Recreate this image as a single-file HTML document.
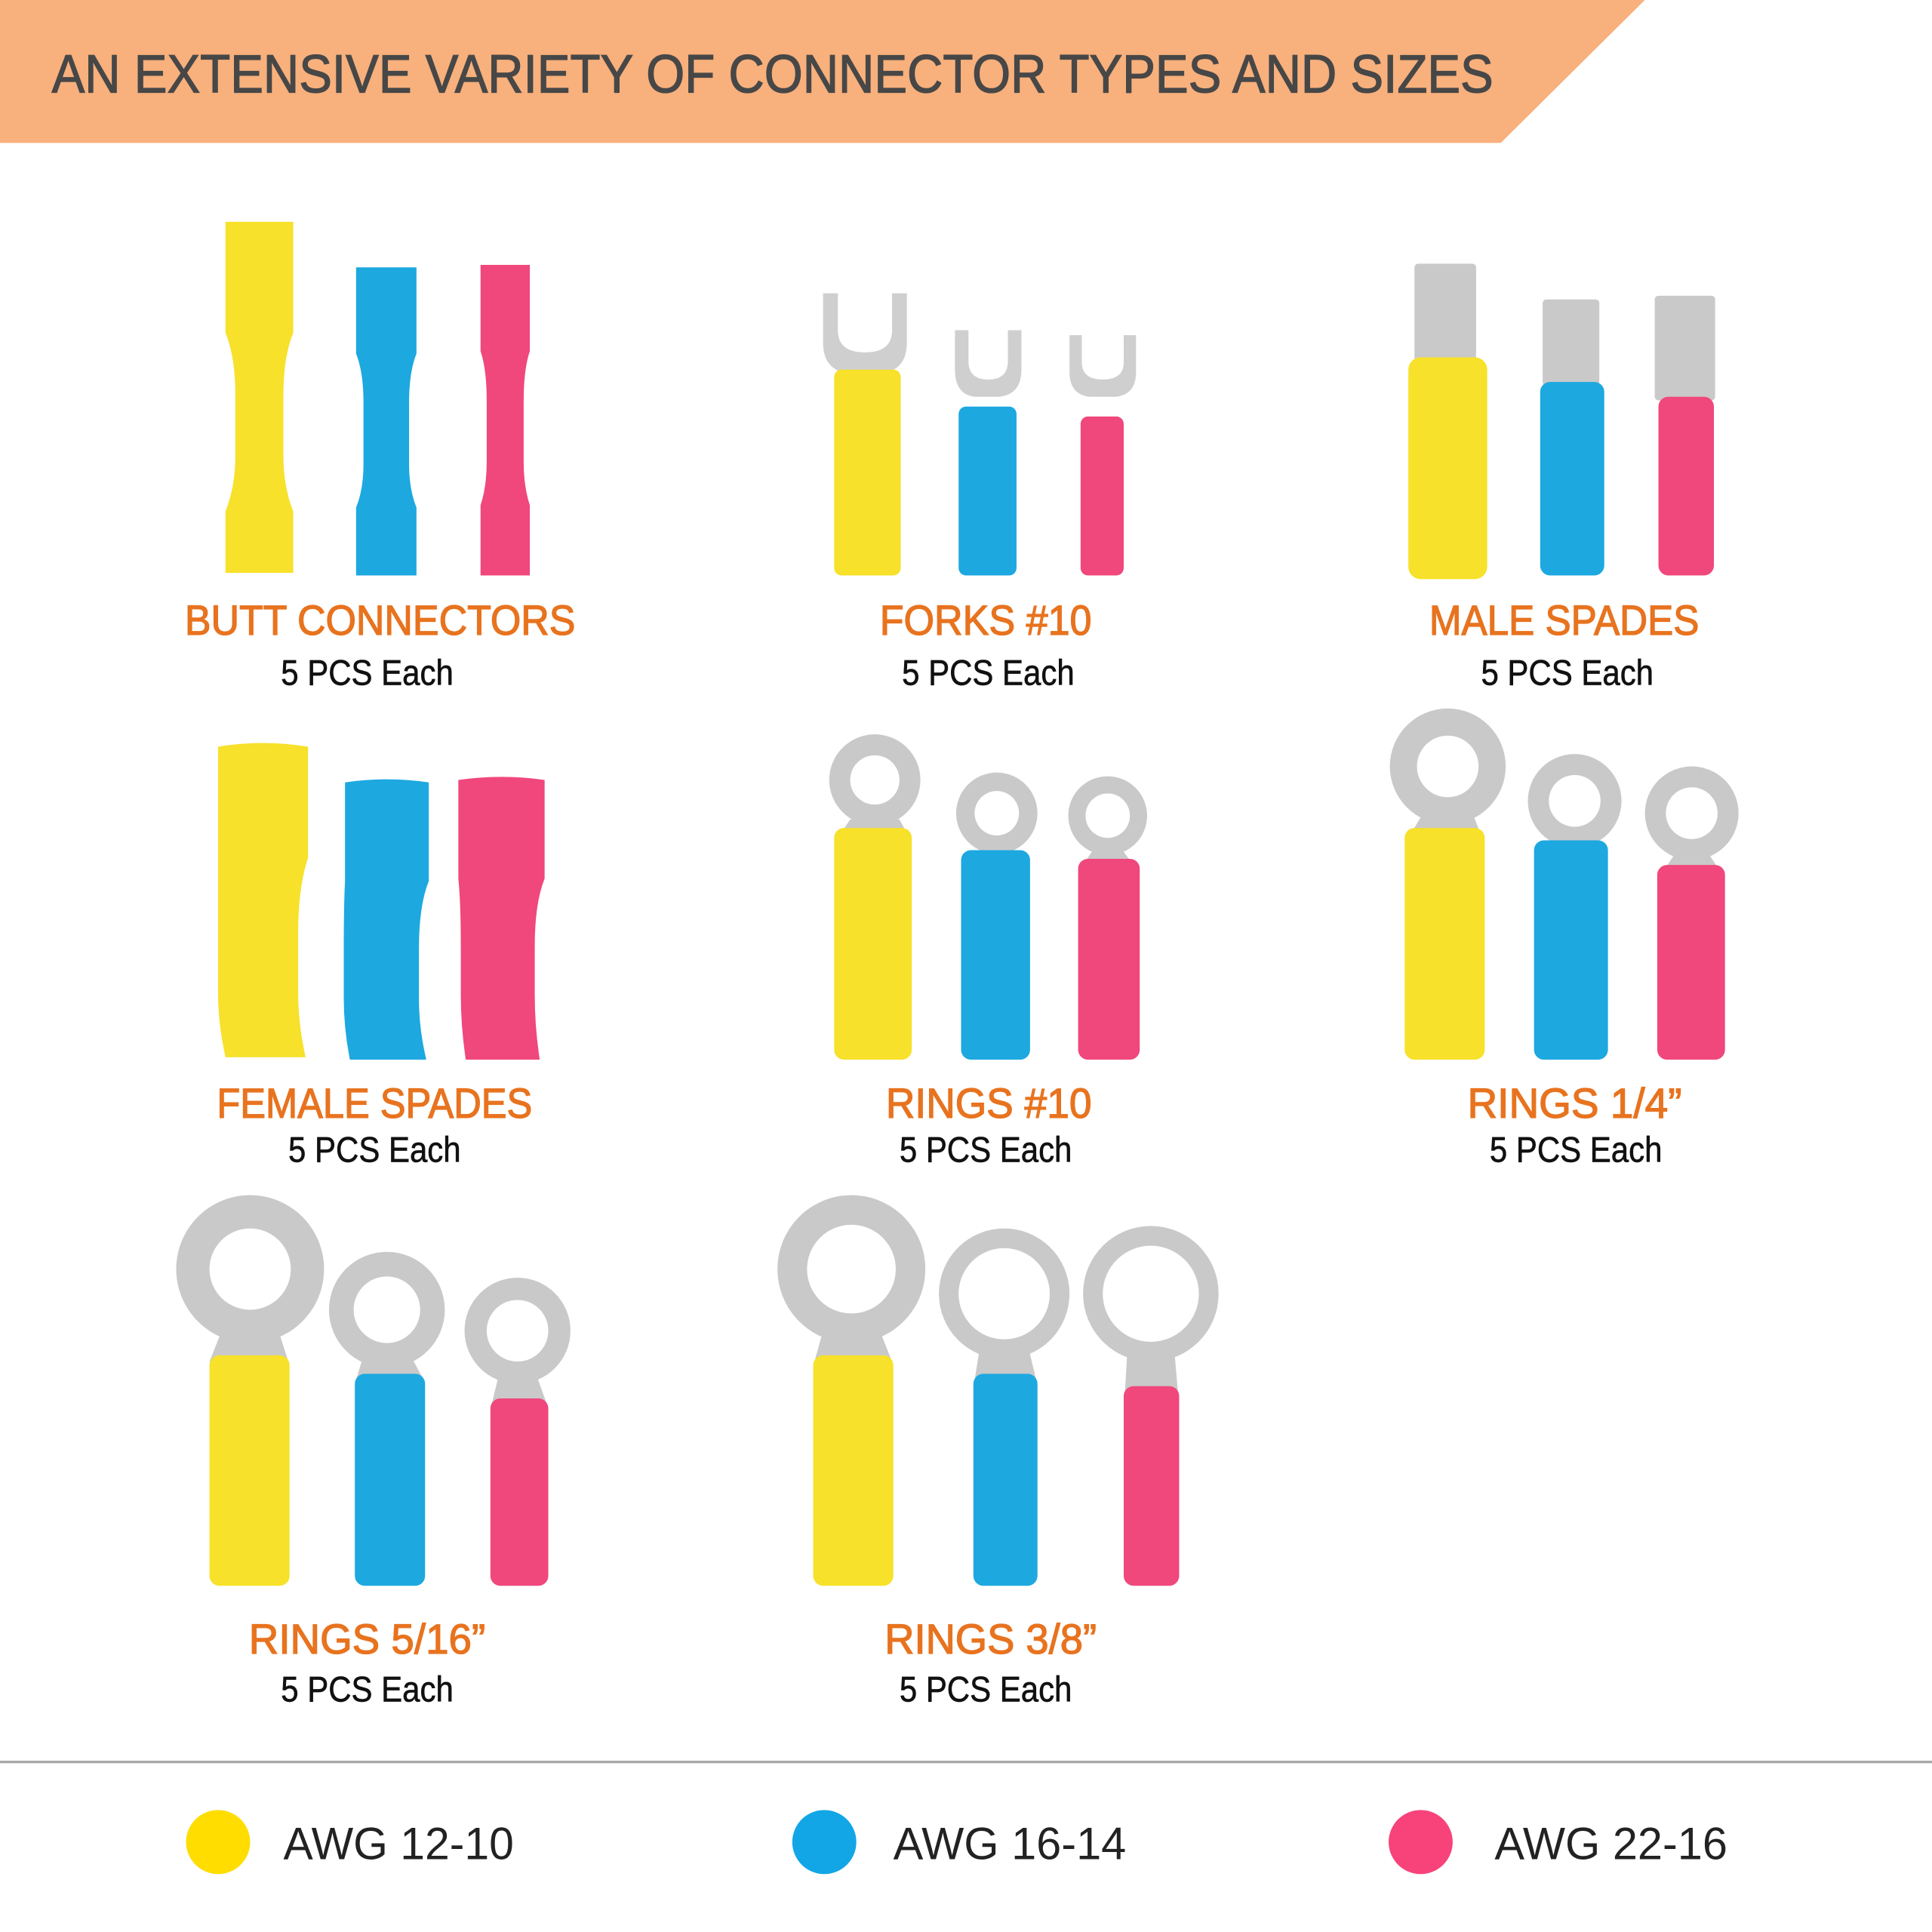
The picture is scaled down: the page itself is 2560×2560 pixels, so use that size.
<!DOCTYPE html>
<html><head><meta charset="utf-8"><style>
html,body{margin:0;padding:0;background:#fff}
svg{display:block}
text{font-family:"Liberation Sans","DejaVu Sans",sans-serif}
</style></head><body>
<svg width="2560" height="2560" viewBox="0 0 1568 1568" xmlns="http://www.w3.org/2000/svg">
<rect width="1568" height="1568" fill="#fff"/>
<polygon points="0,0 1335,0 1218,116 0,116" fill="#F8B07C"/>
<text x="42" y="75" font-size="44" fill="#474747" stroke="#474747" stroke-width="0.8" textLength="1170" lengthAdjust="spacingAndGlyphs">AN EXTENSIVE VARIETY OF CONNECTOR TYPES AND SIZES</text>

<g font-size="34" fill="#E8731F" stroke="#E8731F" stroke-width="0.8" lengthAdjust="spacingAndGlyphs">
<text x="150" y="515" textLength="317" lengthAdjust="spacingAndGlyphs">BUTT CONNECTORS</text>
<text x="714" y="515" textLength="172" lengthAdjust="spacingAndGlyphs">FORKS #10</text>
<text x="1160" y="515" textLength="219" lengthAdjust="spacingAndGlyphs">MALE SPADES</text>
<text x="176" y="907" textLength="256" lengthAdjust="spacingAndGlyphs">FEMALE SPADES</text>
<text x="719" y="907" textLength="167" lengthAdjust="spacingAndGlyphs">RINGS #10</text>
<text x="1191" y="907" textLength="174" lengthAdjust="spacingAndGlyphs">RINGS 1/4”</text>
<text x="202" y="1342" textLength="192" lengthAdjust="spacingAndGlyphs">RINGS 5/16”</text>
<text x="718" y="1342" textLength="172" lengthAdjust="spacingAndGlyphs">RINGS 3/8”</text>
</g>
<g font-size="29" fill="#111" stroke="#111" stroke-width="0.4">
<text x="228" y="556" textLength="140" lengthAdjust="spacingAndGlyphs">5 PCS Each</text>
<text x="732" y="556" textLength="140" lengthAdjust="spacingAndGlyphs">5 PCS Each</text>
<text x="1202" y="556" textLength="140" lengthAdjust="spacingAndGlyphs">5 PCS Each</text>
<text x="234" y="943" textLength="140" lengthAdjust="spacingAndGlyphs">5 PCS Each</text>
<text x="730" y="943" textLength="140" lengthAdjust="spacingAndGlyphs">5 PCS Each</text>
<text x="1209" y="943" textLength="140" lengthAdjust="spacingAndGlyphs">5 PCS Each</text>
<text x="228" y="1381" textLength="140" lengthAdjust="spacingAndGlyphs">5 PCS Each</text>
<text x="730" y="1381" textLength="140" lengthAdjust="spacingAndGlyphs">5 PCS Each</text>
</g>

<!-- butt connectors -->
<path d="M183,180 h55 v90 q-8,20 -8,50 v50 q0,25 8,45 v50 h-55 v-50 q8,-20 8,-45 v-50 q0,-30 -8,-50z" fill="#F7E12A"/>
<path d="M289,217 h49 v70 q-6,15 -6,40 v50 q0,20 6,35 v55 h-49 v-55 q6,-15 6,-35 v-50 q0,-25 -6,-40z" fill="#1DA8E0"/>
<path d="M390,215 h40 v70 q-5,15 -5,40 v50 q0,20 5,35 v57 h-40 v-57 q5,-15 5,-35 v-50 q0,-25 -5,-40z" fill="#F0477C"/>

<!-- forks -->
<g fill="#CFCFCF">
<path d="M668,238 h12 v30 q0,18 22,18 q22,0 22,-18 v-30 h12 v40 q0,22 -20,25 h-28 q-20,-3 -20,-25z"/>
<path d="M775,268 h11 v25 q0,15 16,15 q16,0 16,-15 v-25 h11 v32 q0,20 -18,22 h-20 q-16,-2 -16,-22z"/>
<path d="M868,272 h10 v22 q0,14 17,14 q17,0 17,-14 v-22 h10 v30 q0,18 -16,20 h-22 q-16,-2 -16,-20z"/>
</g>
<rect x="677" y="300" width="54" height="167" rx="6" fill="#F7E12A"/>
<rect x="778" y="330" width="47" height="137" rx="6" fill="#1DA8E0"/>
<rect x="877" y="338" width="35" height="129" rx="6" fill="#F0477C"/>

<!-- male spades -->
<g fill="#C9C9C9">
<rect x="1148" y="214" width="50" height="80" rx="3"/>
<rect x="1252" y="243" width="46" height="70" rx="3"/>
<rect x="1343" y="240" width="49" height="85" rx="3"/>
</g>
<rect x="1143" y="290" width="64" height="180" rx="10" fill="#F7E12A"/>
<rect x="1250" y="310" width="52" height="157" rx="8" fill="#1DA8E0"/>
<rect x="1346" y="322" width="45" height="145" rx="8" fill="#F0477C"/>

<!-- female spades -->
<path d="M177,606 q36,-6 73,0 v90 q-8,25 -8,60 v50 q0,25 6,52 h-65 q-6,-27 -6,-52 v-50 q0,-35 0,-60z" fill="#F7E12A"/>
<path d="M280,635 q34,-5 68,0 v80 q-8,20 -8,55 v40 q0,25 6,50 h-62 q-5,-25 -5,-50 v-40 q0,-35 1,-55z" fill="#1DA8E0"/>
<path d="M372,633 q35,-5 70,0 v80 q-8,20 -8,55 v40 q0,25 4,52 h-60 q-4,-27 -4,-52 v-40 q0,-35 -2,-55z" fill="#F0477C"/>

<g fill="#C9C9C9" fill-rule="evenodd">
<path d="M673,633 a37,37 0 1,0 74,0 a37,37 0 1,0 -74,0z M690,633 a20,20 0 1,0 40,0 a20,20 0 1,0 -40,0z"/>
<path d="M776,660 a33,33 0 1,0 66,0 a33,33 0 1,0 -66,0z M791,660 a18,18 0 1,0 36,0 a18,18 0 1,0 -36,0z"/>
<path d="M867,662 a32,32 0 1,0 64,0 a32,32 0 1,0 -64,0z M881,662 a18,18 0 1,0 36,0 a18,18 0 1,0 -36,0z"/>
<path d="M1128,622 a47,47 0 1,0 94,0 a47,47 0 1,0 -94,0z M1150,622 a25,25 0 1,0 50,0 a25,25 0 1,0 -50,0z"/>
<path d="M1240,650 a38,38 0 1,0 76,0 a38,38 0 1,0 -76,0z M1257,650 a21,21 0 1,0 42,0 a21,21 0 1,0 -42,0z"/>
<path d="M1335,660 a38,38 0 1,0 76,0 a38,38 0 1,0 -76,0z M1352,660 a21,21 0 1,0 42,0 a21,21 0 1,0 -42,0z"/>
<path d="M143,1030 a60,60 0 1,0 120,0 a60,60 0 1,0 -120,0z M170,1030 a33,33 0 1,0 66,0 a33,33 0 1,0 -66,0z"/>
<path d="M267,1063 a47,47 0 1,0 94,0 a47,47 0 1,0 -94,0z M287,1063 a27,27 0 1,0 54,0 a27,27 0 1,0 -54,0z"/>
<path d="M377,1080 a43,43 0 1,0 86,0 a43,43 0 1,0 -86,0z M395,1080 a25,25 0 1,0 50,0 a25,25 0 1,0 -50,0z"/>
<path d="M631,1030 a60,60 0 1,0 120,0 a60,60 0 1,0 -120,0z M655,1030 a36,36 0 1,0 72,0 a36,36 0 1,0 -72,0z"/>
<path d="M762,1050 a53,53 0 1,0 106,0 a53,53 0 1,0 -106,0z M778,1050 a37,37 0 1,0 74,0 a37,37 0 1,0 -74,0z"/>
<path d="M879,1050 a55,55 0 1,0 110,0 a55,55 0 1,0 -110,0z M895,1050 a39,39 0 1,0 78,0 a39,39 0 1,0 -78,0z"/>
</g>
<g fill="#C9C9C9">
<polygon points="690,665 730,665 738,680 680,680"/>
<polygon points="795,690 823,690 834,700 782,700"/>
<polygon points="887,690 911,690 922,705 877,705"/>
<polygon points="1155,660 1195,660 1203,680 1143,680"/>
<polygon points="1262,683 1294,683 1303,695 1248,695"/>
<polygon points="1360,692 1386,692 1398,710 1348,710"/>
<polygon points="180,1080 226,1080 234,1105 170,1105"/>
<polygon points="295,1100 333,1100 344,1120 289,1120"/>
<polygon points="405,1115 435,1115 444,1140 399,1140"/>
<polygon points="668,1080 714,1080 724,1105 661,1105"/>
<polygon points="795,1095 835,1095 841,1120 791,1120"/>
<polygon points="915,1095 953,1095 956,1130 913,1130"/>
</g>
<g fill="#F7E12A">
<rect x="677" y="672" width="63" height="188" rx="8"/>
<rect x="1140" y="672" width="65" height="188" rx="8"/>
<rect x="170" y="1100" width="65" height="187" rx="8"/>
<rect x="660" y="1100" width="65" height="187" rx="8"/>
</g>
<g fill="#1DA8E0">
<rect x="780" y="690" width="56" height="170" rx="8"/>
<rect x="1245" y="682" width="60" height="178" rx="8"/>
<rect x="288" y="1115" width="57" height="172" rx="8"/>
<rect x="790" y="1115" width="52" height="172" rx="8"/>
</g>
<g fill="#F0477C">
<rect x="875" y="697" width="50" height="163" rx="8"/>
<rect x="1345" y="702" width="55" height="158" rx="8"/>
<rect x="398" y="1135" width="47" height="152" rx="8"/>
<rect x="912" y="1125" width="45" height="162" rx="8"/>
</g>

<line x1="0" y1="1430" x2="1568" y2="1430" stroke="#A9A9A9" stroke-width="2"/>
<circle cx="177" cy="1495" r="26" fill="#FFDD00"/>
<circle cx="669" cy="1495" r="26" fill="#12A6E6"/>
<circle cx="1153" cy="1495" r="26" fill="#F7437A"/>
<g font-size="37" fill="#222">
<text x="230" y="1509" textLength="187" lengthAdjust="spacingAndGlyphs">AWG 12-10</text>
<text x="725" y="1509" textLength="189" lengthAdjust="spacingAndGlyphs">AWG 16-14</text>
<text x="1213" y="1509" textLength="189" lengthAdjust="spacingAndGlyphs">AWG 22-16</text>
</g>
</svg>
</body></html>
